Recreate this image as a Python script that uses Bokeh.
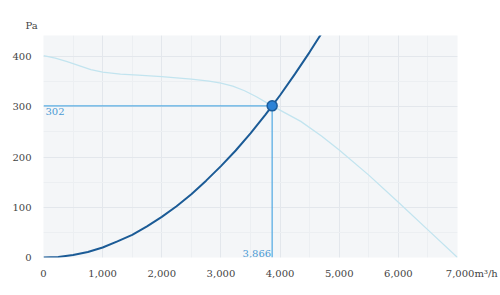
from bokeh.plotting import figure
from bokeh.models import Range1d, FixedTicker, Label
from bokeh.embed import file_html
from bokeh.resources import INLINE

# Fan curve (pressure vs airflow)
fan_q = [0, 200, 400, 600, 800, 1000, 1300, 1600, 2000, 2500, 2800, 3000, 3200, 3400, 3600, 3866, 4100, 4350, 4700, 5000, 5500, 6000, 6500, 7000]
fan_p = [402, 397, 390, 382, 374, 369, 365, 363, 360, 355, 351, 347, 341, 332, 320, 302, 287, 271, 242, 214, 164, 110, 55, 0]

# System curve
sys_q = [0, 250, 500, 750, 1000, 1250, 1500, 1750, 2000, 2250, 2500, 2750, 3000, 3250, 3500, 3750, 3866, 4000, 4250, 4500, 4700]
sys_p = [0, 1, 5, 11, 20, 32, 45, 62, 81, 102, 126, 153, 182, 213, 247, 284, 302, 323, 365, 409, 446]

# Operating point
op_q = 3866
op_p = 302

x_ticks = [0, 1000, 2000, 3000, 4000, 5000, 6000, 7000]
x_labels = ["0", "1,000", "2,000", "3,000", "4,000", "5,000", "6,000", "7,000"]
y_ticks = [0, 100, 200, 300, 400]
x_unit = "m³/h"
y_unit = "Pa"

FONT = "'DejaVu Serif', 'Liberation Serif', serif"

p = figure(width=500, height=295, output_backend="svg", toolbar_location=None,
           x_range=Range1d(0, 7000), y_range=Range1d(0, 442),
           min_border_left=43, min_border_right=43, min_border_top=35, min_border_bottom=38)
p.outline_line_color = None
p.background_fill_color = "#f4f6f8"
p.border_fill_color = "white"

p.title.text = y_unit
p.title.align = "left"
p.title.offset = -18
p.title.text_font = FONT
p.title.text_font_size = "10px"
p.title.text_font_style = "normal"
p.title.text_color = "#444444"
p.title.standoff = 10

for ax in (p.xaxis[0], p.yaxis[0]):
    ax.axis_line_color = None
    ax.major_tick_line_color = None
    ax.minor_tick_line_color = None
    ax.major_label_text_font = FONT
    ax.major_label_text_font_size = "10px"
    ax.major_label_text_color = "#444444"

p.xaxis[0].ticker = FixedTicker(ticks=x_ticks, minor_ticks=list(range(0, 7001, 500)))
p.yaxis[0].ticker = FixedTicker(ticks=y_ticks, minor_ticks=list(range(0, 451, 50)))
overrides = {t: l for t, l in zip(x_ticks, x_labels)}
overrides[x_ticks[-1]] = "\u00a0" * 9 + x_labels[-1] + x_unit
p.xaxis[0].major_label_overrides = overrides
p.xaxis[0].major_label_standoff = 4
p.yaxis[0].major_label_standoff = 6

p.xgrid.grid_line_color = "#e3e7ec"
p.ygrid.grid_line_color = "#e3e7ec"
p.xgrid.minor_grid_line_color = "#eceff2"
p.ygrid.minor_grid_line_color = "#eceff2"

# Curves
p.line(fan_q, fan_p, line_color="#c2e4ef", line_width=1.3)
p.line(sys_q, sys_p, line_color="#1b5b96", line_width=2)

# Operating point guides
p.line([0, op_q], [op_p, op_p], line_color="#5aaee3", line_width=1.3)
p.line([op_q, op_q], [op_p, 0], line_color="#5aaee3", line_width=1.3)
p.scatter([op_q], [op_p], size=10, fill_color="#2b82d6", line_color="#1c5c9a", line_width=1.5)

p.add_layout(Label(x=0, y=op_p, text=str(op_p), x_offset=2, y_offset=-2,
                   text_baseline="top", text_font=FONT, text_font_size="10px",
                   text_color="#4a9ad4"))
p.add_layout(Label(x=op_q, y=0, text=f"{op_q:,}", x_offset=-1, y_offset=1,
                   text_align="right", text_baseline="bottom", text_font=FONT,
                   text_font_size="10px", text_color="#4a9ad4"))

open("out.html", "w").write(file_html(p, INLINE))
